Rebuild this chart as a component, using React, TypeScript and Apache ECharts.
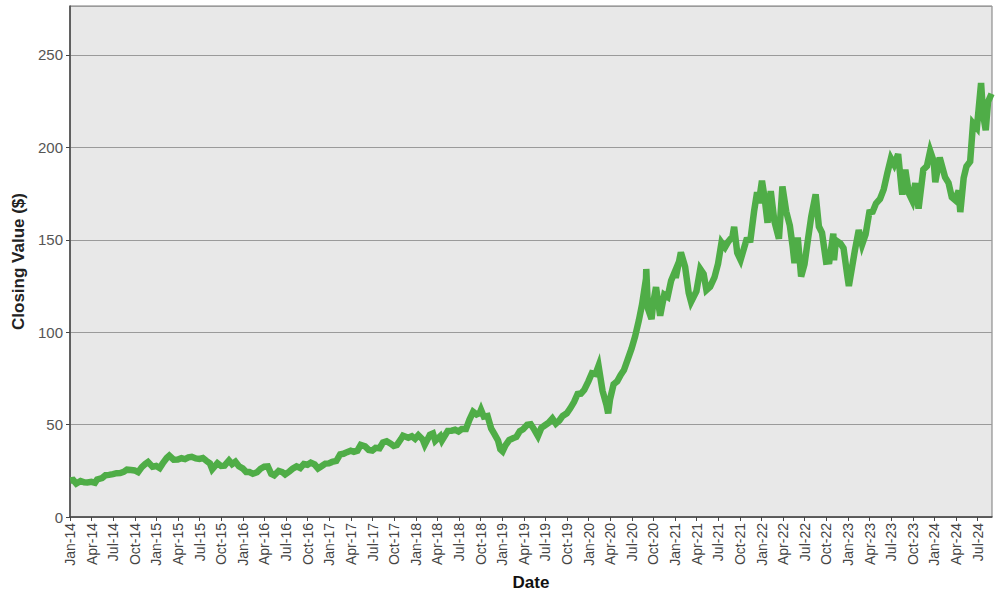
import React, { useEffect, useRef } from "react";
import * as echarts from "echarts";

const dates: string[] = [
  "2014-01-02","2014-01-15","2014-01-28","2014-02-14","2014-02-28","2014-03-14","2014-03-31","2014-04-15","2014-04-24","2014-05-15","2014-05-30","2014-06-13","2014-06-30","2014-07-15","2014-07-31","2014-08-15","2014-08-29","2014-09-15","2014-09-30","2014-10-15","2014-10-31","2014-11-14","2014-11-26","2014-12-15","2014-12-31",
  "2015-01-15","2015-01-28","2015-02-13","2015-02-23","2015-03-13","2015-03-31","2015-04-15","2015-04-30","2015-05-15","2015-05-29","2015-06-15","2015-06-30","2015-07-15","2015-07-31","2015-08-14","2015-08-24","2015-09-15","2015-09-30","2015-10-15","2015-11-03","2015-11-16","2015-11-30","2015-12-15","2015-12-31",
  "2016-01-15","2016-01-29","2016-02-12","2016-02-29","2016-03-15","2016-03-31","2016-04-15","2016-04-29","2016-05-12","2016-05-31","2016-06-15","2016-06-27","2016-07-15","2016-07-29","2016-08-15","2016-08-31","2016-09-15","2016-09-30","2016-10-14","2016-10-31","2016-11-14","2016-11-30","2016-12-15","2016-12-30",
  "2017-01-13","2017-01-31","2017-02-15","2017-02-28","2017-03-15","2017-03-31","2017-04-13","2017-04-28","2017-05-12","2017-05-31","2017-06-15","2017-06-30","2017-07-14","2017-07-31","2017-08-15","2017-08-31","2017-09-15","2017-09-29","2017-10-13","2017-10-31","2017-11-08","2017-11-30","2017-12-15","2017-12-29",
  "2018-01-12","2018-01-31","2018-02-08","2018-02-28","2018-03-13","2018-03-23","2018-04-13","2018-04-20","2018-05-15","2018-05-31","2018-06-15","2018-06-29","2018-07-13","2018-07-31","2018-08-15","2018-08-31","2018-09-14","2018-09-28","2018-10-03","2018-10-15","2018-10-31","2018-11-15","2018-11-30","2018-12-14","2018-12-24",
  "2019-01-03","2019-01-15","2019-01-31","2019-02-15","2019-02-28","2019-03-15","2019-03-29","2019-04-15","2019-04-30","2019-05-15","2019-05-31","2019-06-14","2019-06-28","2019-07-15","2019-07-31","2019-08-15","2019-08-30","2019-09-13","2019-09-30","2019-10-15","2019-10-31","2019-11-15","2019-11-29","2019-12-13","2019-12-31",
  "2020-01-15","2020-01-31","2020-02-12","2020-02-28","2020-03-16","2020-03-23","2020-03-31","2020-04-15","2020-04-30","2020-05-15","2020-05-29","2020-06-15","2020-06-30","2020-07-15","2020-07-31","2020-08-14","2020-08-31","2020-09-01","2020-09-08","2020-09-23","2020-09-30","2020-10-12","2020-10-30","2020-11-16","2020-11-30","2020-12-15","2020-12-31",
  "2021-01-04","2021-01-26","2021-02-12","2021-02-26","2021-03-08","2021-03-31","2021-04-16","2021-04-30","2021-05-12","2021-05-28","2021-06-15","2021-06-30","2021-07-15","2021-07-30","2021-08-13","2021-08-31","2021-09-07","2021-09-20","2021-10-04","2021-10-29","2021-11-15","2021-11-30","2021-12-13","2021-12-20",
  "2022-01-03","2022-01-14","2022-01-27","2022-02-09","2022-02-23","2022-03-14","2022-03-29","2022-04-14","2022-04-29","2022-05-11","2022-05-19","2022-06-02","2022-06-16","2022-06-30","2022-07-15","2022-07-29","2022-08-17","2022-08-31","2022-09-13","2022-09-30","2022-10-14","2022-10-31","2022-11-03","2022-11-11","2022-11-30","2022-12-13","2022-12-30",
  "2023-01-05","2023-01-31","2023-02-15","2023-02-28","2023-03-15","2023-03-31","2023-04-14","2023-04-28","2023-05-15","2023-05-31","2023-06-15","2023-06-30","2023-07-14","2023-07-31","2023-08-15","2023-08-18","2023-08-31","2023-09-15","2023-09-29","2023-10-12","2023-10-26","2023-11-15","2023-11-30","2023-12-14","2023-12-29",
  "2024-01-05","2024-01-24","2024-02-15","2024-02-29","2024-03-14","2024-03-28","2024-04-12","2024-04-19","2024-05-03","2024-05-15","2024-05-31","2024-06-12","2024-06-28","2024-07-16","2024-07-25","2024-08-05","2024-08-15","2024-08-30",
];

const closes: number[] = [
  19.75,20.0,18.1,19.5,18.8,18.7,19.0,18.5,20.3,21.1,22.6,22.8,23.2,23.7,23.8,24.4,25.6,25.4,25.2,24.3,27.0,28.6,29.7,27.2,27.6,
  26.5,29.0,31.9,33.2,31.0,31.1,31.8,31.3,32.3,32.6,31.7,31.4,31.9,30.3,29.0,25.8,29.1,27.6,27.8,30.6,28.6,29.9,27.5,26.3,
  24.3,24.3,23.4,24.2,26.1,27.2,27.4,23.4,22.6,24.9,24.3,23.0,24.6,26.1,27.4,26.5,28.7,28.3,29.4,28.4,26.3,27.6,28.9,29.0,
  29.8,30.3,33.9,34.2,35.1,35.9,35.3,35.9,39.0,38.2,36.3,36.0,37.4,37.2,40.3,41.0,39.8,38.5,39.0,42.3,44.0,42.9,43.7,42.3,
  44.3,41.9,39.1,44.5,45.2,41.2,43.7,41.4,46.6,46.7,47.2,46.3,47.6,47.6,52.6,56.9,55.5,56.4,58.0,54.3,54.7,47.9,44.6,41.4,36.7,
  35.5,38.7,41.6,42.6,43.3,46.5,47.5,49.9,50.2,47.3,43.8,48.2,49.5,51.0,53.3,50.5,52.2,54.7,56.1,58.8,62.2,66.6,66.8,68.8,73.4,
  77.8,77.4,81.8,68.3,60.6,56.1,63.6,71.8,73.4,76.9,79.5,85.7,91.2,97.7,106.3,115.0,129.0,134.2,112.8,107.1,115.8,124.4,108.9,120.3,119.1,127.9,132.7,
  129.4,143.2,135.4,121.3,116.4,122.2,134.2,131.5,122.8,124.6,129.6,137.0,148.5,145.9,149.0,151.8,157.0,142.9,139.1,149.8,150.0,165.3,175.7,169.8,
  182.0,173.1,159.2,176.3,160.1,150.6,178.9,165.3,157.7,146.5,137.4,151.2,130.1,136.7,150.2,162.5,174.6,157.2,153.8,138.2,138.4,153.3,138.9,149.7,148.0,145.5,129.9,
  125.0,144.3,155.3,147.4,152.9,164.9,165.2,169.7,172.1,177.3,186.0,194.0,190.7,196.4,177.5,174.5,187.9,175.0,171.2,180.7,166.9,188.0,189.9,198.1,192.5,
  181.2,194.5,183.9,180.8,173.0,171.5,176.6,165.0,183.4,189.7,192.3,213.1,210.6,234.8,217.5,209.3,224.7,229.0,
];

const monthNames: string[] = ["Jan","Feb","Mar","Apr","May","Jun","Jul","Aug","Sep","Oct","Nov","Dec"];
const startYear = 2014;

function toMonthIndex(d: string): number {
  const [y, m, day] = d.split("-").map(Number);
  const dim = new Date(y, m, 0).getDate();
  return (y - startYear) * 12 + (m - 1) + (day - 1) / dim;
}

function monthLabel(v: number): string {
  if (Math.abs(v - Math.round(v)) > 1e-6) return "";
  const i = Math.round(v);
  if (i % 3 !== 0) return "";
  const y = startYear + Math.floor(i / 12);
  return monthNames[i % 12] + "-" + String(y).slice(2);
}

export default function App() {
  const ref = useRef<HTMLDivElement>(null);
  useEffect(() => {
    if (!ref.current) return;
    const chart = echarts.init(ref.current, null, { renderer: "svg" });
    const data = dates.map((d, i) => [toMonthIndex(d), closes[i]]);
    chart.setOption({
      animation: false,
      backgroundColor: "#ffffff",
      grid: {
        left: 70,
        right: 8,
        top: 6,
        bottom: 83,
        show: true,
        backgroundColor: "#e8e8e8",
        borderColor: "#7a7a7a",
        borderWidth: 1,
      },
      xAxis: {
        type: "value",
        min: 0,
        max: 128,
        interval: 3,
        name: "Date",
        nameLocation: "middle",
        nameGap: 57,
        nameTextStyle: { fontFamily: "Liberation Sans, Arial, sans-serif", fontSize: 17, fontWeight: "bold", color: "#111" },
        axisLine: { show: true, lineStyle: { color: "#444", width: 1.5 } },
        axisTick: { show: true, length: 4, lineStyle: { color: "#444" } },
        splitLine: { show: false },
        axisLabel: {
          rotate: 90,
          margin: 6,
          fontFamily: "Liberation Sans, Arial, sans-serif",
          fontSize: 14,
          color: "#444",
          showMaxLabel: false,
          formatter: (v: number) => monthLabel(v),
        },
      },
      yAxis: {
        type: "value",
        min: 0,
        max: 276.5,
        interval: 50,
        name: "Closing Value ($)",
        nameLocation: "middle",
        nameGap: 39,
        nameTextStyle: { fontFamily: "Liberation Sans, Arial, sans-serif", fontSize: 17, fontWeight: "bold", color: "#222" },
        axisLine: { show: true, lineStyle: { color: "#444", width: 1.5 } },
        axisTick: { show: true, length: 4, lineStyle: { color: "#444" } },
        splitLine: { show: true, lineStyle: { color: "#9a9a9a", width: 1 } },
        axisLabel: {
          margin: 7,
          fontFamily: "Liberation Sans, Arial, sans-serif",
          fontSize: 15,
          color: "#555",
          showMaxLabel: false,
          formatter: (v: number) => (v % 50 === 0 ? String(v) : ""),
        },
      },
      series: [
        {
          type: "line",
          data,
          showSymbol: false,
          symbol: "none",
          lineStyle: { color: "#4fad47", width: 6.5, join: "miter" },
        },
      ],
    });
    return () => chart.dispose();
  }, []);
  return <div ref={ref} style={{ position: "fixed", left: 0, top: 0, width: 1000, height: 600 }} />;
}
